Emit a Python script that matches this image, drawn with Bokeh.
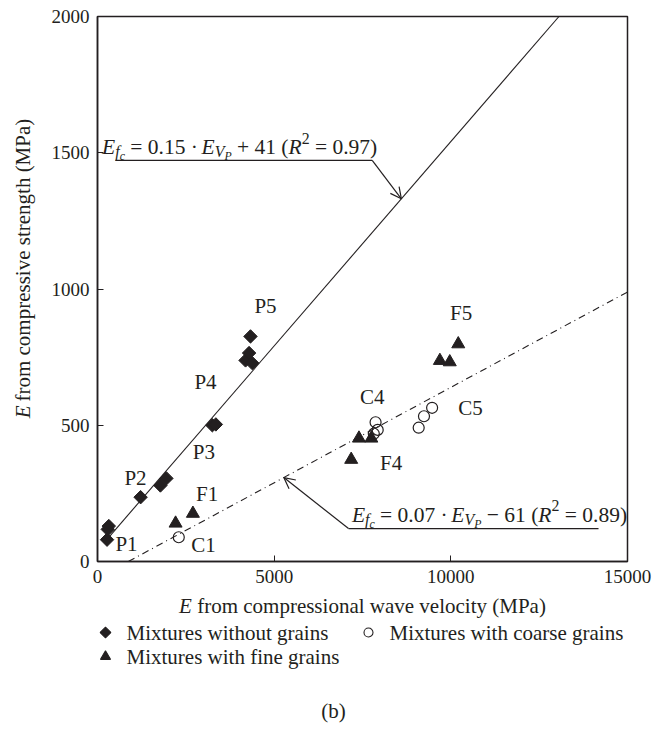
import math

from bokeh.core.properties import value
from bokeh.embed import file_html
from bokeh.layouts import column, row
from bokeh.models import Arrow, FixedTicker, Label, OpenHead, Range1d
from bokeh.plotting import figure
from bokeh.resources import INLINE

# ---------------------------------------------------------------- data
x_ticks = [0, 5000, 10000, 15000]
y_ticks = [0, 500, 1000, 1500, 2000]

# Mixtures without grains (P series)
plain_x = [270, 320, 290, 1220, 1780, 1950, 3250, 3350, 4190, 4290, 4380, 4330]
plain_y = [80, 130, 118, 236, 279, 305, 500, 503, 738, 765, 728, 826]

# Mixtures with fine grains (F series)
fine_x = [2210, 2700, 7180, 7400, 7750, 9690, 9970, 10210]
fine_y = [140, 176, 374, 452, 452, 737, 732, 798]

# Mixtures with coarse grains (C series)
coarse_x = [2300, 7820, 7870, 7930, 9090, 9240, 9470]
coarse_y = [89, 469, 511, 483, 491, 533, 564]

mix_names = ["P1", "P2", "P3", "P4", "P5", "F1", "F4", "F5", "C1", "C4", "C5"]
mix_label_x = [820, 1075, 3009, 3057, 4755, 3104, 8311, 10292, 3000, 7774, 10557]
mix_label_y = [65, 305, 401, 658, 939, 246, 360, 911, 62, 603, 564]

# linear fits: (slope, intercept, R^2)
fit_plain = (0.15, 41, 0.97)
fit_grains = (0.07, -61, 0.89)

legend_names = ["Mixtures without grains", "Mixtures with coarse grains",
                "Mixtures with fine grains"]
x_title = "from compressional wave velocity (MPa)"
y_title = "from compressive strength (MPa)"
caption = "(b)"

INK = "#231f20"
SERIF = "Liberation Serif"
X_MAX, Y_MAX = 15000, 2000

# page geometry (pixels)
PAGE_W, PAGE_H = 665, 739
TITLE_W = 45            # strip holding the vertical axis title
MAIN_H = 595            # main chart incl. tick labels
FOOT_H = PAGE_H - MAIN_H

# Times-compatible advance widths (1/1000 em) for composing rich text
ROMAN = {" ": 250, "(": 333, ")": 333, "+": 564, ".": 250, "=": 564,
         "\u00b7": 250, "\u2212": 564, "M": 889, "P": 556, "E": 611,
         "a": 444, "b": 500, "c": 444, "d": 500, "e": 444, "f": 333,
         "g": 500, "h": 500, "i": 278, "j": 278, "k": 500, "l": 278,
         "m": 778, "n": 500, "o": 500, "p": 500, "q": 500, "r": 333,
         "s": 389, "t": 278, "u": 500, "v": 500, "w": 722, "x": 500,
         "y": 500, "z": 444}
for d in "0123456789":
    ROMAN[d] = 500
ITALIC = {"E": 611, "f": 278, "c": 444, "V": 611, "P": 611, "R": 611}


def text_width(s, italic):
    table = ITALIC if italic else ROMAN
    return sum(table.get(ch, 500) for ch in s) / 1000.0


def runs_width(runs, size):
    return sum(text_width(t, it) * size * sc for t, it, sc, _ in runs)


def split_run(txt, fs, italic):
    body = txt.strip(" ")
    lead = len(txt) - len(txt.lstrip(" "))
    trail = len(txt) - lead - len(body) if body else 0
    return body, lead * 0.25 * fs, text_width(body, italic) * fs + trail * 0.25 * fs


def rich_label(p, x, y, runs, size):
    """Equation text inside the axes: runs of (text, italic, scale, rise)."""
    pos = 0.0
    for txt, italic, scale, rise in runs:
        fs = size * scale
        body, pre, adv = split_run(txt, fs, italic)
        pos += pre
        if body:
            p.add_layout(Label(
                x=x, y=y, x_offset=pos, y_offset=rise * size, text=body,
                text_font=SERIF, text_font_size=f"{fs:.1f}px",
                text_font_style="italic" if italic else "normal",
                text_color=INK, text_align="left",
                text_baseline="alphabetic"))
        pos += adv


def rich_text(fig, x, y, runs, size, vertical=False):
    """Centred mixed-style text on a panel whose units are pixels."""
    pos = -runs_width(runs, size) / 2
    for txt, italic, scale, rise in runs:
        fs = size * scale
        body, pre, adv = split_run(txt, fs, italic)
        pos += pre
        if body:
            if vertical:
                px, py, ang = x, y + pos, math.pi / 2
            else:
                px, py, ang = x + pos, y, 0.0
            fig.text(x=[px], y=[py], text=[body], angle=ang,
                     text_font=value(SERIF), text_font_size=f"{fs:.1f}px",
                     text_font_style="italic" if italic else "normal",
                     text_color=INK, text_align="left",
                     text_baseline="middle")
        pos += adv


def equation_runs(slope, intercept, r2):
    sign = "+" if intercept >= 0 else "\u2212"
    return [("E", True, 1.0, 0.0), ("f", True, 0.74, -0.2),
            ("c", True, 0.55, -0.42),
            (f" = {slope:.2f} \u00b7 ", False, 1.0, 0.0),
            ("E", True, 1.0, 0.0), ("V", True, 0.74, -0.2),
            ("P", True, 0.55, -0.42),
            (f" {sign} {abs(intercept)} (", False, 1.0, 0.0),
            ("R", True, 1.0, 0.0), ("2", False, 0.74, 0.42),
            (f" = {r2:.2f})", False, 1.0, 0.0)]


def blank_panel(w, h, xr, yr):
    f = figure(width=w, height=h, output_backend="svg", toolbar_location=None,
               x_range=xr, y_range=yr, x_axis_type=None, y_axis_type=None,
               min_border=0)
    f.outline_line_color = None
    f.grid.visible = False
    f.background_fill_color = "white"
    f.border_fill_color = "white"
    return f


# ---------------------------------------------------------------- main axes
p = figure(width=PAGE_W - TITLE_W, height=MAIN_H, output_backend="svg",
           toolbar_location=None,
           x_range=Range1d(0, X_MAX), y_range=Range1d(0, Y_MAX),
           min_border_left=97 - TITLE_W, min_border_right=38,
           min_border_top=16, min_border_bottom=MAIN_H - 561)
p.background_fill_color = "white"
p.border_fill_color = "white"
p.outline_line_color = INK
p.outline_line_width = 1.5
p.grid.visible = False

p.xaxis.ticker = FixedTicker(ticks=x_ticks)
p.yaxis.ticker = FixedTicker(ticks=y_ticks)
p.xaxis.major_label_overrides = {t: str(t) for t in x_ticks}
p.yaxis.major_label_overrides = {t: str(t) for t in y_ticks}
for ax in (p.xaxis, p.yaxis):
    ax.major_tick_in = 6
    ax.major_tick_out = 0
    ax.minor_tick_line_color = None
    ax.axis_line_color = INK
    ax.axis_line_width = 1.5
    ax.major_tick_line_color = INK
    ax.major_label_text_font = SERIF
    ax.major_label_text_font_size = "19px"
    ax.major_label_text_color = INK
    ax.major_label_standoff = 8

# regression lines from the fitted coefficients
s1, b1, _ = fit_plain
x1 = [300, (Y_MAX - b1) / s1]
p.line(x1, [s1 * v + b1 for v in x1], line_color=INK, line_width=1.1)

s2, b2, _ = fit_grains
x2 = [-b2 / s2, X_MAX]
p.line(x2, [s2 * v + b2 for v in x2], line_color=INK, line_width=1.1,
       line_dash="7 4 1 4")

# measurements
p.scatter(plain_x, plain_y, marker="square", angle=math.pi / 4, size=9.5,
          fill_color=INK, line_color=INK)
p.scatter(fine_x, fine_y, marker="triangle", size=13,
          fill_color=INK, line_color=INK)
p.scatter(coarse_x, coarse_y, marker="circle", size=11, fill_color=None,
          line_color=INK, line_width=1.2)

for name, lx, ly in zip(mix_names, mix_label_x, mix_label_y):
    p.add_layout(Label(x=lx, y=ly, text=name, text_font=SERIF,
                       text_font_size="21px", text_color=INK,
                       text_align="center", text_baseline="middle"))

# equation call-outs with leader arrows
rich_label(p, 130, 1520, equation_runs(*fit_plain), 21.5)
p.add_layout(Arrow(end=None, x_start=509, y_start=1472, x_end=7775,
                   y_end=1472, line_color=INK, line_width=1.2))
tip1_x = 8600
p.add_layout(Arrow(end=OpenHead(size=11, line_color=INK, line_width=1.2),
                   x_start=7775, y_start=1472, x_end=tip1_x,
                   y_end=s1 * tip1_x + b1, line_color=INK, line_width=1.2))

rich_label(p, 7200, 171, equation_runs(*fit_grains), 21.5)
p.add_layout(Arrow(end=None, x_start=7104, y_start=121, x_end=14180,
                   y_end=121, line_color=INK, line_width=1.2))
tip2_x = 5273
p.add_layout(Arrow(end=OpenHead(size=11, line_color=INK, line_width=1.2),
                   x_start=7104, y_start=121, x_end=tip2_x,
                   y_end=s2 * tip2_x + b2, line_color=INK, line_width=1.2))

# ---------------------------------------------------------------- y title strip
ystrip = blank_panel(TITLE_W, MAIN_H, Range1d(0, TITLE_W), Range1d(0, MAIN_H))
yt_runs = [("E", True, 1.0, 0.0), (" " + y_title, False, 1.0, 0.0)]
rich_text(ystrip, 22, MAIN_H - 288, yt_runs, 21, vertical=True)

# ---------------------------------------------------------------- footer
# pixel coordinates measured downward from the top of the footer
foot = blank_panel(PAGE_W, FOOT_H, Range1d(0, PAGE_W), Range1d(FOOT_H, 0))
xt_runs = [("E", True, 1.0, 0.0), (" " + x_title, False, 1.0, 0.0)]
rich_text(foot, 362, 605 - MAIN_H, xt_runs, 21)

legend_markers = ["square", "circle", "triangle"]
legend_angles = [math.pi / 4, 0.0, 0.0]
legend_sizes = [7.5, 9, 10]
legend_fill = [INK, None, INK]
legend_x = [105, 368, 105]
legend_y = [632 - MAIN_H, 632 - MAIN_H, 656 - MAIN_H]
for mk, ang, sz, fc, lx, ly, name in zip(legend_markers, legend_angles,
                                          legend_sizes, legend_fill,
                                          legend_x, legend_y, legend_names):
    foot.scatter([lx], [ly], marker=mk, angle=ang, size=sz, fill_color=fc,
                 line_color=INK, line_width=1.1)
    foot.text(x=[lx + 21], y=[ly], text=[name], text_font=value(SERIF),
              text_font_size="21px", text_color=INK, text_align="left",
              text_baseline="middle")

foot.text(x=[333], y=[710 - MAIN_H], text=[caption], text_font=value(SERIF),
          text_font_size="21px", text_color=INK, text_align="center",
          text_baseline="middle")

layout = column(row(ystrip, p), foot)
open("out.html", "w").write(file_html(layout, INLINE))
